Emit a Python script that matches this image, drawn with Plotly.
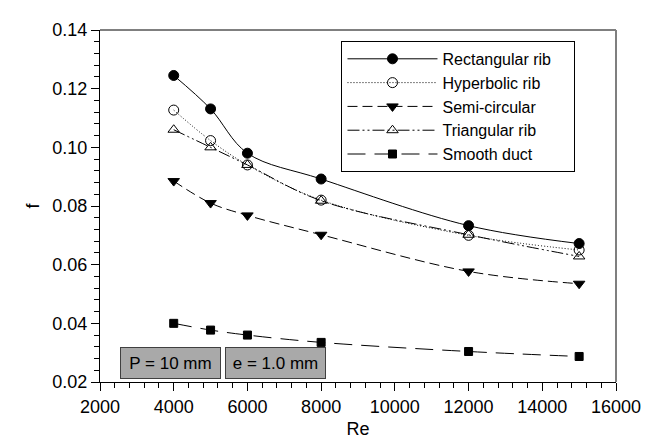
import plotly.graph_objects as go

re_values = [4000, 5000, 6000, 8000, 12000, 15000]

rectangular_rib = [0.1245, 0.1131, 0.0980, 0.0892, 0.0733, 0.0672]
hyperbolic_rib = [0.1127, 0.1023, 0.0940, 0.0820, 0.0700, 0.0650]
semi_circular = [0.0885, 0.0810, 0.0768, 0.0702, 0.0577, 0.0535]
triangular_rib = [0.1060, 0.1000, 0.0940, 0.0818, 0.0702, 0.0628]
smooth_duct = [0.0400, 0.0377, 0.0360, 0.0335, 0.0304, 0.0287]

series_names = ["Rectangular rib\u00a0\u00a0\u00a0\u00a0", "Hyperbolic rib", "Semi-circular", "Triangular rib", "Smooth duct"]
x_tick_values = [2000, 4000, 6000, 8000, 10000, 12000, 14000, 16000]
x_tick_text = ["2000", "4000", "6000", "8000", "10000", "12000", "14000", "16000"]
y_tick_values = [0.02, 0.04, 0.06, 0.08, 0.10, 0.12, 0.14]
y_tick_text = ["0.02", "0.04", "0.06", "0.08", "0.10", "0.12", "0.14"]
box_labels = ["P = 10 mm", "e = 1.0 mm"]

FONT = "Liberation Sans, Arial, sans-serif"

styles = [
    dict(dash="solid", symbol="circle", size=10),
    dict(dash="1px,2px", symbol="circle-open", size=10),
    dict(dash="10px,5px", symbol="triangle-down", size=10),
    dict(dash="12px,3px,2px,3px,2px,3px", symbol="triangle-up-open", size=10),
    dict(dash="18px,9px", symbol="square", size=8),
]
data = [rectangular_rib, hyperbolic_rib, semi_circular, triangular_rib, smooth_duct]

fig = go.Figure()
for name, ys, st in zip(series_names, data, styles):
    fig.add_trace(go.Scatter(
        x=re_values, y=ys, name=name, mode="lines+markers",
        line=dict(color="black", width=1, dash=st["dash"], shape="spline", smoothing=1.0),
        marker=dict(symbol=st["symbol"], size=st["size"], color="black",
                    line=dict(color="black", width=1)),
    ))

fig.update_layout(
    width=650, height=439,
    margin=dict(l=92, r=42, t=14, b=65),
    paper_bgcolor="white", plot_bgcolor="white",
    font=dict(family=FONT, size=18, color="black"),
    showlegend=True,
    legend=dict(
        x=0.468, y=0.969, xanchor="left", yanchor="top",
        bordercolor="black", borderwidth=1, bgcolor="white",
        font=dict(family=FONT, size=16, color="black"),
        itemwidth=90, tracegroupgap=0,
    ),
    xaxis=dict(
        range=[2000, 16000], tickvals=x_tick_values, ticktext=x_tick_text,
        ticks="outside", ticklen=8, tickwidth=1, tickcolor="black",
        showline=True, linecolor="black", linewidth=1, mirror=False,
        showgrid=False, zeroline=False,
        minor=dict(dtick=400, tick0=2000, ticks="outside", ticklen=5, tickcolor="black", showgrid=False),
        title=dict(text="Re", font=dict(size=18), standoff=6),
        tickfont=dict(size=18),
    ),
    yaxis=dict(
        range=[0.02, 0.14], tickvals=y_tick_values, ticktext=y_tick_text,
        ticks="outside", ticklen=8, tickwidth=1, tickcolor="black",
        showline=True, linecolor="black", linewidth=1, mirror=False,
        showgrid=False, zeroline=False,
        minor=dict(dtick=0.004, tick0=0.02, ticks="outside", ticklen=5, tickcolor="black", showgrid=False),
        title=dict(text="f", font=dict(size=18), standoff=8),
        tickfont=dict(size=18),
    ),
)

# top frame line (black) and right frame line (grey)
fig.add_shape(type="line", xref="paper", yref="paper", x0=0, x1=1, y0=1, y1=1,
              line=dict(color="black", width=1))
fig.add_shape(type="line", xref="paper", yref="paper", x0=1, x1=1, y0=0, y1=1,
              line=dict(color="#7f7f7f", width=2))

box_centers = [0.1366, 0.340]
for label, cx in zip(box_labels, box_centers):
    fig.add_annotation(
        text=label, xref="paper", yref="paper", x=cx, y=0.0528,
        xanchor="center", yanchor="middle", showarrow=False,
        width=97, height=28, bgcolor="#a9a9a9", bordercolor="#404040",
        borderwidth=1, borderpad=1, font=dict(family=FONT, size=17, color="black"),
    )

fig.write_html("out.html")
